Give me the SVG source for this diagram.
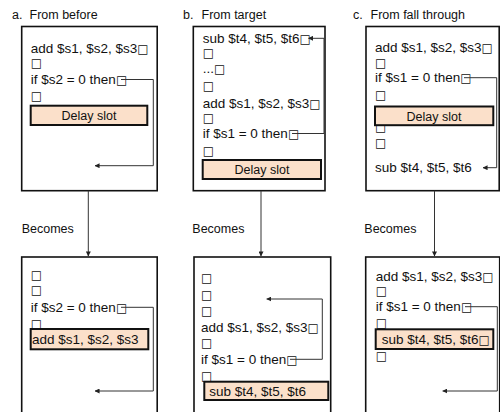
<svg xmlns="http://www.w3.org/2000/svg" width="500" height="412" viewBox="0 0 500 412">
  <style>
    text { font-family: "Liberation Sans", Arial, sans-serif; font-size: 12.5px; fill: #111; }
    .code { font-size: 13.5px; }
    .mid { text-anchor: middle; }
    .eol { font-family: "DejaVu Sans", sans-serif; font-size: 12px; }
    .frame { fill: #fff; stroke: #111; stroke-width: 1.6; }
    .slot { fill: #fbe0ca; stroke: #111; stroke-width: 2; }
    .wire { fill: none; stroke: #333; stroke-width: 1; marker-end: url(#tip); }
  </style>
  <defs>
    <marker id="tip" viewBox="0 0 6 6" refX="5.5" refY="3" markerWidth="5" markerHeight="5" markerUnits="userSpaceOnUse" orient="auto">
      <path d="M0,0 L6,3 L0,6 z" fill="#222"/>
    </marker>
  </defs>
  <rect width="500" height="412" fill="#fff"/>

  <!-- column titles -->
  <g id="titles">
    <text y="19"><tspan x="12">a.</tspan><tspan x="29.5">From before</tspan></text>
    <text y="19"><tspan x="183">b.</tspan><tspan x="201.5">From target</tspan></text>
    <text y="19"><tspan x="353">c.</tspan><tspan x="370.5">From fall through</tspan></text>
  </g>

  <!-- a. before -->
  <g id="a-before">
    <rect class="frame" x="21.7" y="26.5" width="135.5" height="164.2"/>
    <text class="code" x="30.7" y="52.5">add $s1, $s2, $s3<tspan class="eol">□</tspan></text>
    <text x="30.7" y="66.5" class="eol">□</text>
    <text class="code" x="30.7" y="84">if $s2 = 0 then<tspan class="eol">□</tspan></text>
    <text x="30.7" y="99.5" class="eol">□</text>
    <rect class="slot" x="30.7" y="105.7" width="116.6" height="19.3"/>
    <text x="89" y="119.8" class="mid">Delay slot</text>
  </g>

  <!-- b. before -->
  <g id="b-before">
    <rect class="frame" x="193.3" y="26.5" width="131.7" height="164.2"/>
    <text class="code" x="202.7" y="42.8">sub $t4, $t5, $t6<tspan class="eol">□</tspan></text>
    <text x="202.7" y="56.8" class="eol">□</text>
    <text class="code" x="202.7" y="72.8">...<tspan class="eol">□</tspan></text>
    <text x="202.7" y="90.2" class="eol">□</text>
    <text class="code" x="202.7" y="107.5">add $s1, $s2, $s3<tspan class="eol">□</tspan></text>
    <text x="202.7" y="121.8" class="eol">□</text>
    <text class="code" x="202.7" y="137.8">if $s1 = 0 then<tspan class="eol">□</tspan></text>
    <text x="202.7" y="155.2" class="eol">□</text>
    <rect class="slot" x="202.7" y="160" width="118.3" height="19"/>
    <text x="262" y="174" class="mid">Delay slot</text>
  </g>

  <!-- c. before -->
  <g id="c-before">
    <rect class="frame" x="366" y="26.5" width="133.2" height="164.2"/>
    <text class="code" x="375" y="51.5">add $s1, $s2, $s3<tspan class="eol">□</tspan></text>
    <text x="375" y="66.5" class="eol">□</text>
    <text class="code" x="375" y="82.2">if $s1 = 0 then<tspan class="eol">□</tspan></text>
    <text x="375" y="98.8" class="eol">□</text>
    <text x="375" y="131" class="eol">□</text>
    <rect class="slot" x="375" y="106.5" width="118.3" height="18.7"/>
    <text x="434" y="120.5" class="mid">Delay slot</text>
    <text x="375" y="146.8" class="eol">□</text>
    <text class="code" x="375" y="172.2">sub $t4, $t5, $t6</text>
  </g>

  <!-- Becomes labels -->
  <g id="becomes">
    <text x="21.7" y="232.5">Becomes</text>
    <text x="192.3" y="232.5">Becomes</text>
    <text x="364.3" y="232.5">Becomes</text>
  </g>

  <!-- a. after -->
  <g id="a-after">
    <rect class="frame" x="21.7" y="257" width="135.5" height="170"/>
    <text x="30.7" y="278.5" class="eol">□</text>
    <text x="30.7" y="293.8" class="eol">□</text>
    <text class="code" x="30.7" y="311.8">if $s2 = 0 then<tspan class="eol">□</tspan></text>
    <text x="30.7" y="327.8" class="eol">□</text>
    <rect class="slot" x="30.7" y="329" width="117.6" height="20.3"/>
    <text class="code" x="32" y="344">add $s1, $s2, $s3</text>
  </g>

  <!-- b. after -->
  <g id="b-after">
    <rect class="frame" x="194" y="257" width="136.7" height="170"/>
    <text x="201" y="281.8" class="eol">□</text>
    <text x="201" y="298.8" class="eol">□</text>
    <text x="201" y="314.5" class="eol">□</text>
    <text class="code" x="201" y="331.8">add $s1, $s2, $s3<tspan class="eol">□</tspan></text>
    <text x="201" y="347.2" class="eol">□</text>
    <text class="code" x="201" y="363.8">if $s1 = 0 then<tspan class="eol">□</tspan></text>
    <text x="201" y="379.5" class="eol">□</text>
    <rect class="slot" x="204.3" y="381.7" width="124" height="18.3"/>
    <text class="code" x="209.3" y="395.7">sub $t4, $t5, $t6</text>
  </g>

  <!-- c. after -->
  <g id="c-after">
    <rect class="frame" x="365.7" y="257" width="134" height="170"/>
    <text class="code" x="375.7" y="281.2">add $s1, $s2, $s3<tspan class="eol">□</tspan></text>
    <text x="375.7" y="294.5" class="eol">□</text>
    <text class="code" x="375.7" y="311.2">if $s1 = 0 then<tspan class="eol">□</tspan></text>
    <text x="375.7" y="326.8" class="eol">□</text>
    <rect class="slot" x="375.7" y="329.3" width="117.6" height="19.7"/>
    <text class="code" x="381.7" y="343.8">sub $t4, $t5, $t6<tspan class="eol">□</tspan></text>
    <text x="375.7" y="359.5" class="eol">□</text>
  </g>

  <!-- branch and transformation arrows -->
  <g id="connectors">
    <path class="wire" d="M121,79.5 H153.3 V165.7 H95"/>
    <path class="wire" d="M292,133.5 H324 V38.3 H308.5"/>
    <path class="wire" d="M464,77.7 H496.7 V167.7 H483"/>
    <path class="wire" d="M88.3,190.7 V256"/>
    <path class="wire" d="M261,190.7 V256"/>
    <path class="wire" d="M434.5,190.7 V256"/>
    <path class="wire" d="M121,307.3 H153.3 V391 H95"/>
    <path class="wire" d="M290,359.3 H322.3 V299 H266.7"/>
    <path class="wire" d="M465,306.7 H497.3 V391 H442.7"/>
  </g>
</svg>
